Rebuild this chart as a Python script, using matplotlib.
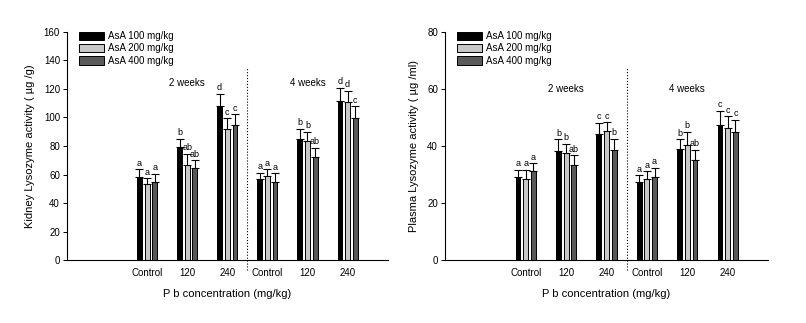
import matplotlib.pyplot as plt

plt.rcParams['font.family'] = ['Liberation Sans', 'DejaVu Sans']

groups = ['Control', '120', '240', 'Control', '120', '240']
series = ['AsA 100 mg/kg', 'AsA 200 mg/kg', 'AsA 400 mg/kg']
colors = ['#000000', '#c8c8c8', '#5a5a5a']

# kidney lysozyme (ug/g), one list per AsA dose, 2 weeks then 4 weeks
kidney_mean = [
    [58.2, 79.3, 108.1, 56.8, 84.9, 111.6],
    [53.3, 66.7, 91.9, 58.9, 83.5, 110.9],
    [54.7, 64.3, 94.7, 54.7, 72.3, 99.6],
]
kidney_sd = [
    [5.4, 5.4, 8.2, 4.5, 7.3, 8.9],
    [4.0, 7.5, 7.5, 4.7, 6.1, 7.5],
    [5.9, 5.6, 7.5, 6.1, 6.1, 8.2],
]
kidney_letters = [
    ['a', 'b', 'd', 'a', 'b', 'd'],
    ['a', 'ab', 'c', 'a', 'b', 'd'],
    ['a', 'ab', 'c', 'a', 'ab', 'c'],
]

# plasma lysozyme (ug/ml)
plasma_mean = [
    [29.1, 38.2, 44.2, 27.4, 38.9, 47.4],
    [28.4, 37.5, 45.1, 28.4, 40.2, 46.3],
    [31.2, 33.3, 38.6, 29.1, 35.1, 44.9],
]
plasma_sd = [
    [2.5, 4.1, 3.9, 2.3, 3.4, 4.8],
    [3.2, 3.1, 3.2, 2.7, 4.6, 4.1],
    [2.7, 3.4, 4.0, 3.3, 3.4, 4.3],
]
plasma_letters = [
    ['a', 'b', 'c', 'a', 'b', 'c'],
    ['a', 'b', 'c', 'a', 'b', 'c'],
    ['a', 'ab', 'b', 'a', 'ab', 'c'],
]

xpos = [2, 3, 4, 5, 6, 7]
offsets = [-0.19, 0.0, 0.19]
width = 0.12


def draw_panel(ax, means, sds, letters, ymax, ystep, ylabel, week_y, line_top):
    for i in range(3):
        xs = [x + offsets[i] for x in xpos]
        ax.bar(xs, means[i], width=width, color=colors[i], edgecolor='black',
               linewidth=0.7, label=series[i], zorder=2)
        ax.errorbar(xs, means[i], yerr=[[0] * 6, sds[i]], fmt='none',
                    ecolor='black', elinewidth=0.8, capsize=2.8, capthick=0.8, zorder=3)
        for x, m, s, t in zip(xs, means[i], sds[i], letters[i]):
            ax.text(x, m + s + ymax * 0.008, t, ha='center', va='bottom', fontsize=6.5)

    ax.set_xlim(0, 8)
    ax.set_ylim(0, ymax)
    ax.set_yticks(range(0, ymax + 1, ystep))
    ax.set_xticks(xpos)
    ax.set_xticklabels(groups)
    ax.tick_params(axis='x', length=0, labelsize=7, pad=6)
    ax.tick_params(axis='y', direction='out', length=3, width=0.7, labelsize=7, pad=2)
    for side in ['top', 'right']:
        ax.spines[side].set_visible(False)
    for side in ['left', 'bottom']:
        ax.spines[side].set_linewidth(0.8)

    # dotted separator between the two sampling times
    ax.plot([4.5, 4.5], [-ymax * 0.045, line_top], color='black', linestyle=':',
            linewidth=0.8, clip_on=False)
    ax.text(3.0, week_y, '2 weeks', ha='center', va='center', fontsize=7)
    ax.text(6.0, week_y, '4 weeks', ha='center', va='center', fontsize=7)

    ax.set_ylabel(ylabel, fontsize=8, labelpad=6)
    ax.set_xlabel('P b concentration (mg/kg)', fontsize=8, labelpad=8)
    ax.legend(loc='upper left', bbox_to_anchor=(0.02, 1.03), frameon=False,
              fontsize=7, handlelength=2.6, handleheight=0.9, labelspacing=0.25,
              handletextpad=0.4, borderaxespad=0.2)


fig = plt.figure(figsize=(8.06, 3.23), dpi=100)
ax1 = fig.add_axes([0.083, 0.195, 0.398, 0.706])
ax2 = fig.add_axes([0.552, 0.195, 0.401, 0.706])

draw_panel(ax1, kidney_mean, kidney_sd, kidney_letters, 160, 20,
           'Kidney Lysozyme activity ( \u00b5g /g)', 124, 135)
draw_panel(ax2, plasma_mean, plasma_sd, plasma_letters, 80, 20,
           'Plasma Lysozyme activity ( \u00b5g /ml)', 60, 67.5)

fig.savefig('out.png', dpi=100)
